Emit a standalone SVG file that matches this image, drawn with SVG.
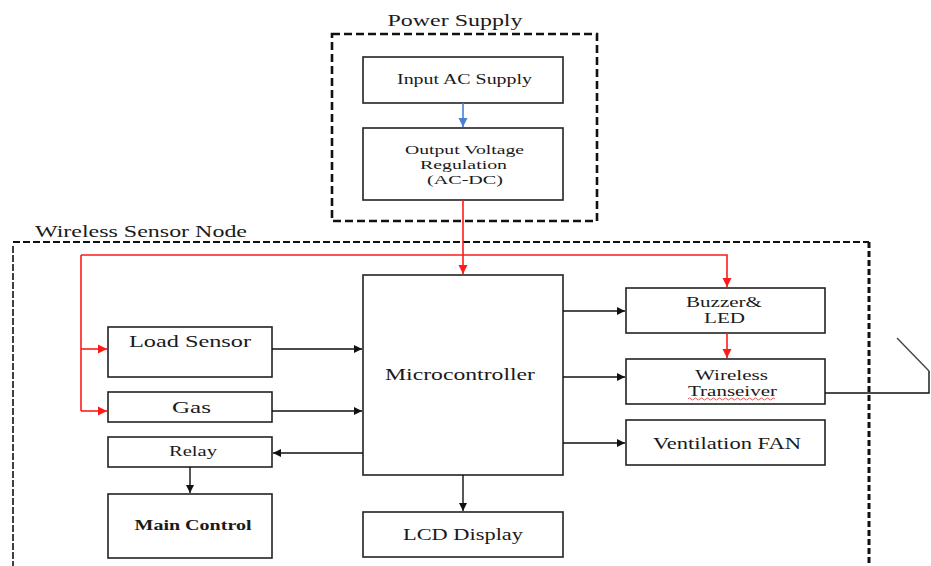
<svg xmlns="http://www.w3.org/2000/svg" width="931" height="566" viewBox="0 0 931 566">
<defs>
<style>
.box{fill:#fff;stroke:#222;stroke-width:1.6}
text{font-family:'Liberation Serif','Times New Roman',serif;fill:#1a1a1a}
.t{text-anchor:middle}
.blk{stroke:#111;stroke-width:1.4;fill:none}
.red{stroke:#ff1a1a;stroke-width:1.6;fill:none}
</style>
<marker id="ab" viewBox="0 0 10 10" refX="10" refY="5" markerWidth="10" markerHeight="8" markerUnits="userSpaceOnUse" orient="auto"><path d="M0,0L10,5L0,10z" fill="#111"/></marker>
<marker id="ar" viewBox="0 0 10 10" refX="10" refY="5" markerWidth="9" markerHeight="11" markerUnits="userSpaceOnUse" orient="auto"><path d="M0,0L10,5L0,10z" fill="#ff1a1a"/></marker>
<marker id="abl" viewBox="0 0 10 10" refX="10" refY="5" markerWidth="9" markerHeight="11" markerUnits="userSpaceOnUse" orient="auto"><path d="M0,0L10,5L0,10z" fill="#4a7fd4"/></marker>
</defs>
<rect width="931" height="566" fill="#fff"/>

<g id="power-supply-group">
<rect x="332" y="34" width="265" height="187" fill="none" stroke="#111" stroke-width="2.6" stroke-dasharray="8,4"/>
<text class="t" x="455" y="26" font-size="16" textLength="135" lengthAdjust="spacingAndGlyphs">Power Supply</text>
</g>
<g id="wsn-group">
<path d="M13,242H869" stroke="#111" stroke-width="2" stroke-dasharray="7,3" fill="none"/>
<path d="M13,246V566" stroke="#111" stroke-width="1.6" stroke-dasharray="7,2" fill="none"/>
<path d="M869,242V566" stroke="#111" stroke-width="3" stroke-dasharray="6,3" fill="none"/>
<text x="35" y="237" font-size="16" textLength="212" lengthAdjust="spacingAndGlyphs">Wireless  Sensor Node</text>
</g>

<g id="input-ac">
<rect class="box" x="363" y="57" width="200" height="46"/>
<text class="t" x="464.5" y="84" font-size="14" textLength="135" lengthAdjust="spacingAndGlyphs">Input AC Supply</text>
</g>
<g id="output-voltage">
<rect class="box" x="363" y="128" width="200" height="72"/>
<text class="t" x="464.5" y="154" font-size="13.5" textLength="119" lengthAdjust="spacingAndGlyphs">Output Voltage</text>
<text class="t" x="463.5" y="169" font-size="13.5" textLength="87" lengthAdjust="spacingAndGlyphs">Regulation</text>
<text class="t" x="465" y="184" font-size="13.5" textLength="76" lengthAdjust="spacingAndGlyphs">(AC-DC)</text>
</g>
<g id="microcontroller">
<rect class="box" x="363" y="275" width="200" height="200"/>
<text class="t" x="460" y="380" font-size="16" textLength="150" lengthAdjust="spacingAndGlyphs">Microcontroller</text>
</g>
<g id="load-sensor">
<rect class="box" x="108" y="327" width="164" height="50"/>
<text class="t" x="190" y="347" font-size="16" textLength="122" lengthAdjust="spacingAndGlyphs">Load Sensor</text>
</g>
<g id="gas">
<rect class="box" x="108" y="392" width="164" height="30"/>
<text class="t" x="191.5" y="413" font-size="16" textLength="39" lengthAdjust="spacingAndGlyphs">Gas</text>
</g>
<g id="relay">
<rect class="box" x="108" y="437" width="164" height="30"/>
<text class="t" x="193" y="456" font-size="14" textLength="48" lengthAdjust="spacingAndGlyphs">Relay</text>
</g>
<g id="main-control">
<rect class="box" x="108" y="494" width="164" height="64"/>
<text class="t" x="193" y="530" font-size="14.5" font-weight="bold" textLength="117" lengthAdjust="spacingAndGlyphs">Main Control</text>
</g>
<g id="lcd">
<rect class="box" x="363" y="512" width="200" height="45"/>
<text class="t" x="463" y="540" font-size="16" textLength="120" lengthAdjust="spacingAndGlyphs">LCD Display</text>
</g>
<g id="buzzer">
<rect class="box" x="626" y="288" width="199" height="45"/>
<text class="t" x="724" y="307" font-size="14.5" textLength="76" lengthAdjust="spacingAndGlyphs">Buzzer&amp;</text>
<text class="t" x="724.5" y="323" font-size="14.5" textLength="41" lengthAdjust="spacingAndGlyphs">LED</text>
</g>
<g id="wireless-transceiver">
<rect class="box" x="626" y="359" width="199" height="45"/>
<text class="t" x="731.5" y="380" font-size="14.5" textLength="73" lengthAdjust="spacingAndGlyphs">Wireless</text>
<text class="t" x="732.5" y="396" font-size="14.5" textLength="89" lengthAdjust="spacingAndGlyphs">Transeiver</text>
<path d="M688,399q1.5,-2 3,0t3,0t3,0t3,0t3,0t3,0t3,0t3,0t3,0t3,0t3,0t3,0t3,0t3,0t3,0t3,0t3,0t3,0t3,0t3,0t3,0t3,0t3,0t3,0t3,0t3,0t3,0t3,0t3,0" stroke="#e03030" stroke-width="0.8" fill="none"/>
</g>
<g id="ventilation-fan">
<rect class="box" x="626" y="420" width="199" height="45"/>
<text class="t" x="727" y="449" font-size="16" textLength="148" lengthAdjust="spacingAndGlyphs">Ventilation  FAN</text>
</g>

<g id="connectors">
<path d="M463,103V127" stroke="#4a7fd4" stroke-width="1.6" fill="none" marker-end="url(#abl)"/>
<path class="red" d="M463,200V274" marker-end="url(#ar)"/>
<path class="red" d="M81,255H727V287" marker-end="url(#ar)"/>
<path class="red" d="M81,255V411"/>
<path class="red" d="M81,349H107" marker-end="url(#ar)"/>
<path class="red" d="M81,411H107" marker-end="url(#ar)"/>
<path class="red" d="M727,333V358" marker-end="url(#ar)"/>
<path class="blk" d="M272,349H362" marker-end="url(#ab)"/>
<path class="blk" d="M272,411H362" marker-end="url(#ab)"/>
<path class="blk" d="M363,453H273" marker-end="url(#ab)"/>
<path class="blk" d="M190,467V493" stroke-width="2" marker-end="url(#ab)"/>
<path class="blk" d="M463,475V511" stroke-width="2" marker-end="url(#ab)"/>
<path class="blk" d="M563,311H625" marker-end="url(#ab)"/>
<path class="blk" d="M563,377H625" marker-end="url(#ab)"/>
<path class="blk" d="M563,443H625" marker-end="url(#ab)"/>
<path class="blk" d="M825,393H929V371"/>
<path d="M929,371L897,338" stroke="#444" stroke-width="1.4" fill="none"/>
</g>
</svg>
